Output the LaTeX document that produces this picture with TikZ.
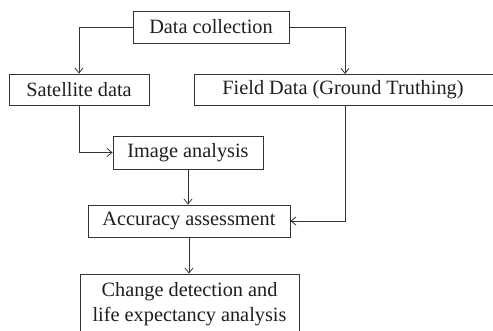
\documentclass[tikz,border=0pt]{standalone}
\usepackage{fontspec}
\setmainfont{Liberation Serif}
\usetikzlibrary{arrows.meta}
\begin{document}
\begin{tikzpicture}[x=1pt,y=-1pt,
  box/.style={draw=black!80, line width=0.8pt, fill=white, text=black!88, font=\fontsize{20.3}{25}\selectfont, inner sep=0pt, align=center},
  conn/.style={draw=black!80, line width=0.8pt, -{Straight Barb[length=5pt,width=8pt]}}]
\clip (0,0) rectangle (493,330);
\fill[white] (0,0) rectangle (493,330);
\node[box, minimum width=156pt, minimum height=32pt] (dc) at (211,27) {Data collection};
\node[box, minimum width=140pt, minimum height=31pt] (sat) at (79,89.5) {Satellite data};
\node[box, minimum width=304pt, minimum height=31pt] (field) at (346,89.5) {};
\node[text=black!88, font=\fontsize{20.3}{25}\selectfont, inner sep=0pt] (fieldtxt) at (343,89.5) {Field Data (Ground Truthing)};
\node[box, minimum width=150pt, minimum height=33pt] (img) at (188,152.5) {Image analysis};
\node[box, minimum width=202pt, minimum height=32pt] (acc) at (189,221) {Accuracy assessment};
\node[box, minimum width=219pt, minimum height=60pt] (chg) at (189.5,304) {Change detection and\\life expectancy analysis};
\coordinate (fr) at (345,105);
\coordinate (frtop) at (345,74);
\draw[conn] (dc.west) -| (sat.north);
\draw[conn] (dc.east) -| (frtop);
\draw[conn] (sat.south) |- (img.west);
\draw[conn] (img.south) -- (img.south |- acc.north);
\draw[conn] (fr) |- (acc.east);
\draw[conn] (acc.south) -- (acc.south |- chg.north);
\end{tikzpicture}
\end{document}
